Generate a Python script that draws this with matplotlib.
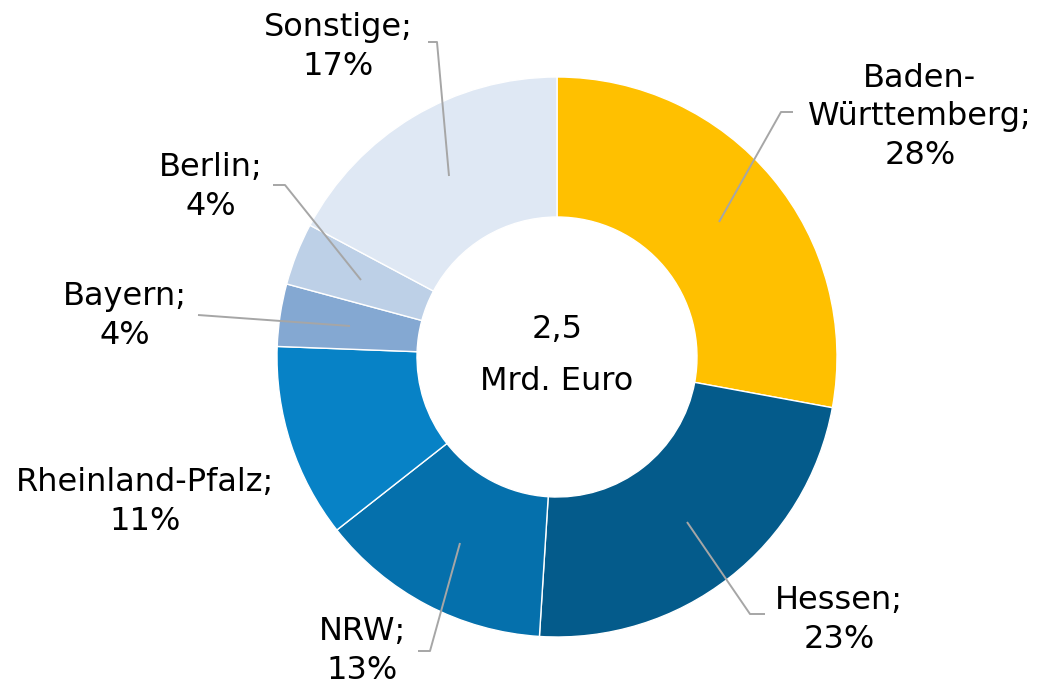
import numpy as np
import matplotlib.pyplot as plt

# Anteile (gemessen aus den Winkeln), angezeigte Prozente gerundet
laender = ["Baden-\nWürttemberg", "Hessen", "NRW", "Rheinland-Pfalz", "Bayern", "Berlin", "Sonstige"]
anteile = [27.9, 23.1, 13.4, 11.2, 3.6, 3.6, 17.2]
prozent = [28, 23, 13, 11, 4, 4, 17]
farben = ["#FFC000", "#045B8B", "#0570AC", "#0782C6", "#84A8D2", "#BDD0E7", "#DFE8F4"]

# Label-Positionen (Pixel, y von oben) und Führungslinien
label_pos = [(920, 117), (839, 620), (362, 651), (145, 502), (125, 316), (211, 187), (338, 47)]
leader = [
    [(793, 112), (781, 112), (719, 222)],
    [(765, 614), (750, 614), (687, 522)],
    [(418, 651), (430, 651), (460, 543)],
    None,
    [(198, 315), (350, 326)],
    [(273, 185), (285, 185), (361, 280)],
    [(428, 42), (437, 42), (449, 176)],
]

W, H = 1043, 688
fig = plt.figure(figsize=(W / 100, H / 100), dpi=100)
ax = fig.add_axes([0, 0, 1, 1])

cx, cy, r = 557, H - 357, 280
ax.pie(anteile, colors=farben, startangle=90, counterclock=False,
       center=(cx, cy), radius=r, frame=True,
       wedgeprops=dict(width=140, edgecolor="white", linewidth=1))
ax.set_xlim(0, W)
ax.set_ylim(0, H)
ax.set_aspect("equal")
ax.axis("off")

for name, p, (x, y), ld in zip(laender, prozent, label_pos, leader):
    ax.text(x, H - y, f"{name};\n{p}%", ha="center", va="center",
            fontsize=23, family="DejaVu Sans", linespacing=1.3)
    if ld:
        xs = [q[0] for q in ld]
        ys = [H - q[1] for q in ld]
        ax.plot(xs, ys, color="#A6A6A6", lw=1.4, solid_capstyle="butt")

ax.text(cx, H - 330, "2,5", ha="center", va="center", fontsize=23)
ax.text(cx, H - 382, "Mrd. Euro", ha="center", va="center", fontsize=23)

plt.savefig("out.png", dpi=100)
